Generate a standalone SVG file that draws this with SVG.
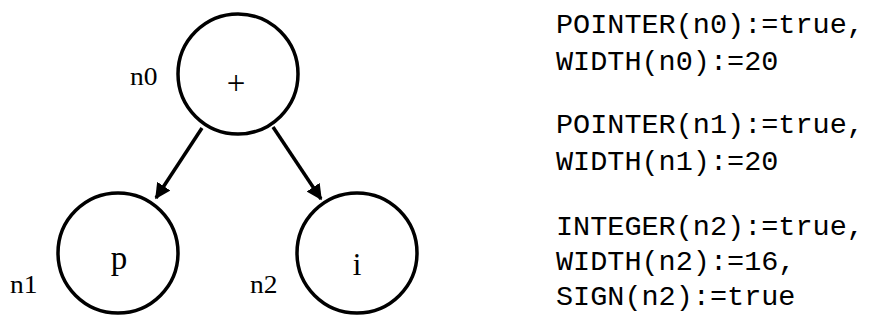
<svg xmlns="http://www.w3.org/2000/svg" width="869" height="327" viewBox="0 0 869 327">
  <style>
    .node { fill: none; stroke: #000; stroke-width: 3.5; }
    .sym { font-family: "Liberation Serif", serif; fill: #000; text-anchor: middle; }
    .lbl { font-family: "Liberation Serif", serif; font-size: 25px; fill: #000; }
    .attr { font-family: "Liberation Mono", monospace; font-size: 28.5px; fill: #000; }
    .edge { stroke: #000; stroke-width: 3.5; fill: none; }
  </style>
  <defs>
    <marker id="arrow" viewBox="0 0 10 10" refX="9" refY="5" markerWidth="4.5" markerHeight="4.5" orient="auto" markerUnits="strokeWidth">
      <path d="M0,0 L10,5 L0,10 z" fill="#000"/>
    </marker>
  </defs>
  <rect width="869" height="327" fill="#fff"/>

  <g id="edges">
    <line class="edge" x1="202" y1="128" x2="156" y2="198" marker-end="url(#arrow)"/>
    <line class="edge" x1="273" y1="127" x2="321" y2="199" marker-end="url(#arrow)"/>
  </g>

  <g id="n0">
    <circle class="node" cx="238" cy="74" r="60"/>
    <text class="sym" x="236" y="94" font-size="33">+</text>
    <text class="lbl" transform="translate(130 85) scale(1.1 1)">n0</text>
  </g>

  <g id="n1">
    <circle class="node" cx="118" cy="253" r="60"/>
    <text class="sym" x="119" y="269" font-size="33">p</text>
    <text class="lbl" transform="translate(10 293) scale(1.1 1)">n1</text>
  </g>

  <g id="n2">
    <circle class="node" cx="357" cy="253" r="60"/>
    <text class="sym" x="357" y="275" font-size="31">i</text>
    <text class="lbl" transform="translate(250 293) scale(1.1 1)">n2</text>
  </g>

  <g id="attributes">
    <text class="attr" x="556" y="33">POINTER(n0):=true,</text>
    <text class="attr" x="556" y="70">WIDTH(n0):=20</text>
    <text class="attr" x="556" y="133">POINTER(n1):=true,</text>
    <text class="attr" x="556" y="170">WIDTH(n1):=20</text>
    <text class="attr" x="556" y="235">INTEGER(n2):=true,</text>
    <text class="attr" x="556" y="270">WIDTH(n2):=16,</text>
    <text class="attr" x="556" y="305">SIGN(n2):=true</text>
  </g>
</svg>
